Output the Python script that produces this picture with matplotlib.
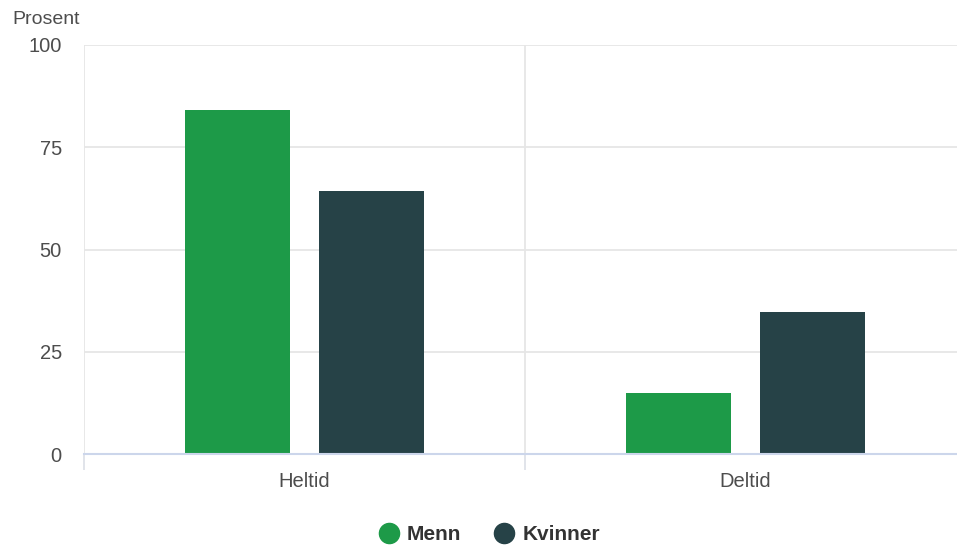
import matplotlib
matplotlib.use('Agg')
import matplotlib.pyplot as plt
from matplotlib.lines import Line2D
import numpy as np

plt.rcParams['font.family'] = ['Liberation Sans', 'DejaVu Sans']

# Data (percent)
categories = ['Heltid', 'Deltid']
series_names = ['Menn', 'Kvinner']
menn = [84.1, 14.8]
kvinner = [64.4, 34.8]
y_ticks = [0, 25, 50, 75, 100]

green = '#1d9a48'
dark = '#264247'
text_col = '#4d4d4d'

fig = plt.figure(figsize=(9.57, 5.45), dpi=100)
W, H = 957, 545
ax = fig.add_axes([84 / W, 91 / H, (966 - 84) / W, (454 - 45) / H])

x = np.arange(len(categories))
bw = 0.24
off = 0.152
ax.bar(x - off, menn, bw, color=green, zorder=3)
ax.bar(x + off, kvinner, bw, color=dark, zorder=3)

ax.set_xlim(-0.5, len(categories) - 0.5)
ax.set_ylim(0, 100)

# horizontal grid
ax.set_yticks(y_ticks)
ax.set_yticklabels([str(t) for t in y_ticks])
ax.yaxis.grid(True, color='#e6e6e6', linewidth=1.3, zorder=0)
ax.tick_params(axis='y', length=0, pad=16, labelsize=14.5, labelcolor=text_col)

# category labels and boundary ticks / lines
ax.set_xticks(x)
ax.set_xticklabels(categories)
ax.tick_params(axis='x', which='major', length=0, pad=13, labelsize=14.5, labelcolor=text_col)
bounds = np.arange(len(categories) + 1) - 0.5
ax.set_xticks(bounds, minor=True)
ax.tick_params(axis='x', which='minor', length=11.5, width=1.2, color='#dcdfe6')
for b in bounds:
    ax.axvline(b, color='#e6e6e6', linewidth=1.3, zorder=0)

for s in ['top', 'right', 'left']:
    ax.spines[s].set_visible(False)
ax.spines['bottom'].set_color('#ccd6eb')
ax.spines['bottom'].set_linewidth(1.5)
ax.spines['bottom'].set_zorder(4)

fig.text(12 / W, 1 - 20 / H, 'Prosent', ha='left', va='center', fontsize=14, color=text_col)

handles = [Line2D([], [], linestyle='none', marker='o', markersize=14.5,
                  markerfacecolor=c, markeredgecolor=c) for c in [green, dark]]
leg = fig.legend(handles, series_names, loc='center', bbox_to_anchor=(0.511, 10 / H),
                 ncol=2, frameon=False, handletextpad=0.35, columnspacing=1.6,
                 handlelength=1.0, prop={'weight': 'bold', 'size': 15})
for t in leg.get_texts():
    t.set_color('#333333')

fig.savefig('out.png', dpi=100)
